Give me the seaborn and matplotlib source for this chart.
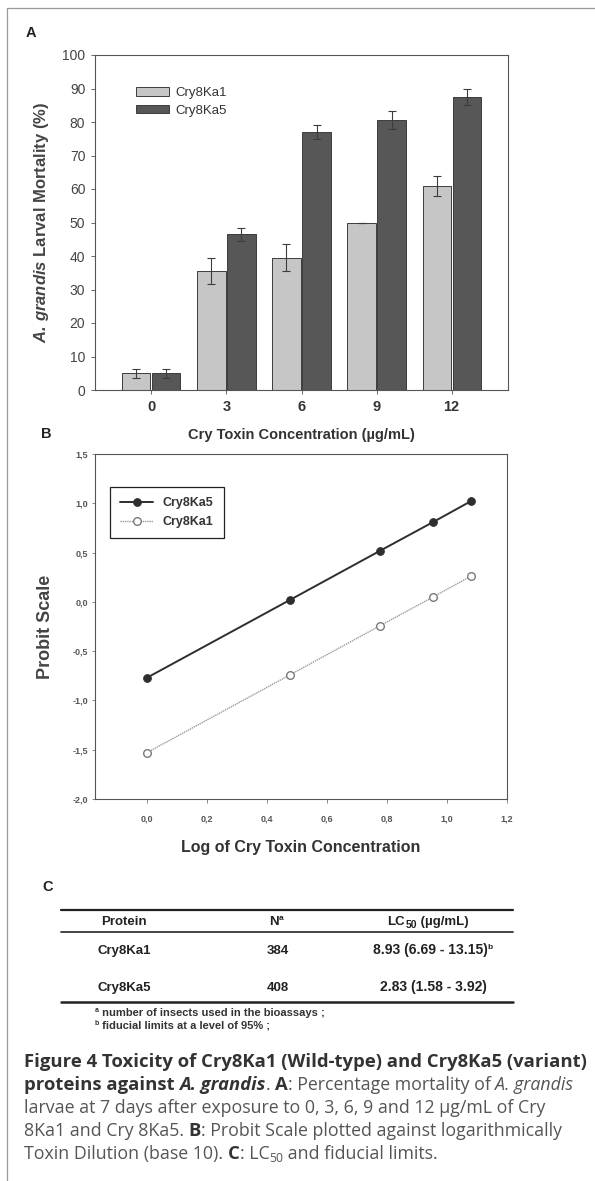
import matplotlib
matplotlib.use("Agg")
import matplotlib.pyplot as plt
import seaborn as sns
import pandas as pd
from matplotlib.lines import Line2D
from matplotlib.ticker import FuncFormatter

# panel A: larval mortality (%) per concentration
conc_labels = ["0", "3", "6", "9", "12"]
ka1_mortality = [5, 35.5, 39.5, 50, 61]
ka1_err = [1.3, 4, 4, 0, 3]
ka5_mortality = [5, 46.5, 77, 80.5, 87.5]
ka5_err = [1.3, 2, 2.2, 2.7, 2.5]

# panel B: probit vs log10(concentration)
log_conc = [0.0, 0.477, 0.778, 0.954, 1.079]
probit_ka5 = [-0.77, 0.02, 0.52, 0.81, 1.02]
probit_ka1 = [-1.53, -0.74, -0.24, 0.05, 0.26]

# panel C: LC50 table
table_proteins = ["Cry8Ka1", "Cry8Ka5"]
table_n = ["384", "408"]
table_lc50 = ["8.93 (6.69 - 13.15)", "2.83 (1.58 - 3.92)"]
table_lc50_note = ["b", ""]

sns.set_style("ticks")
plt.rcParams["font.family"] = ["Liberation Sans", "DejaVu Sans"]
plt.rcParams["mathtext.fontset"] = "custom"
plt.rcParams["mathtext.rm"] = "Liberation Sans"
plt.rcParams["mathtext.it"] = "Liberation Sans:italic"
plt.rcParams["mathtext.bf"] = "Liberation Sans:bold"
plt.rcParams["mathtext.bfit"] = "Liberation Sans:italic:bold"

W, H = 595, 1181
fig = plt.figure(figsize=(W / 100, H / 100), dpi=100)


def fx(x):
    return x / W


def fy(y):
    return 1 - y / H


# ---------------- panel A ----------------
ax_a = fig.add_axes([fx(95), fy(390), (508 - 95) / W, (390 - 55) / H])
df_a = pd.DataFrame({
    "conc": conc_labels * 2,
    "mortality": ka1_mortality + ka5_mortality,
    "protein": ["Cry8Ka1"] * len(conc_labels) + ["Cry8Ka5"] * len(conc_labels),
})
sns.barplot(df_a, x="conc", y="mortality", hue="protein", order=conc_labels,
            hue_order=["Cry8Ka1", "Cry8Ka5"], palette=["#c6c6c6", "#575757"],
            width=0.8, gap=0.06, errorbar=None, edgecolor="#3c3c3c",
            linewidth=0.7, ax=ax_a)
for bars, errs in zip(ax_a.containers, [ka1_err, ka5_err]):
    xs = [b.get_x() + b.get_width() / 2 for b in bars]
    ys = [b.get_height() for b in bars]
    ax_a.errorbar(xs, ys, yerr=errs, fmt="none", ecolor="#3c3c3c",
                  elinewidth=0.8, capsize=3, capthick=0.8)
ax_a.set_xlim(-0.75, 4.75)
ax_a.set_ylim(0, 100)
ax_a.set_yticks(range(0, 101, 10))
ax_a.tick_params(axis="y", labelsize=10, labelcolor="#444", length=3, pad=4,
                 width=0.7, color="#666")
ax_a.tick_params(axis="x", labelsize=10.5, labelcolor="#333", length=3, pad=4.5,
                 width=0.7, color="#666")
for lab in ax_a.get_xticklabels():
    lab.set_fontweight("bold")
for sp in ax_a.spines.values():
    sp.set_visible(True)
    sp.set_color("#555")
    sp.set_linewidth(0.8)
ax_a.set_ylabel(r"$\mathbfit{A.\,grandis}$ Larval Mortality (%)",
                fontsize=12, fontweight="bold", color="#444")
ax_a.yaxis.set_label_coords(-0.107, 0.5)
ax_a.set_xlabel("Cry Toxin Concentration (µg/mL)", fontsize=10.5,
                fontweight="bold", color="#333")
ax_a.xaxis.set_label_coords(0.5, -0.113)
ax_a.legend(loc="upper left", bbox_to_anchor=(0.07, 0.94), frameon=False,
            fontsize=9.5, handlelength=2.5, handleheight=0.6,
            labelspacing=0.45, handletextpad=0.5, labelcolor="#333")

# ---------------- panel B ----------------
ax_b = fig.add_axes([fx(95), fy(799), (507 - 95) / W, (799 - 454) / H])
sns.lineplot(x=log_conc, y=probit_ka5, ax=ax_b, color="#2e2e2e", lw=1.4,
             marker="o", markersize=5.5, markerfacecolor="#2e2e2e",
             markeredgecolor="#2e2e2e", label="Cry8Ka5")
sns.lineplot(x=log_conc, y=probit_ka1, ax=ax_b, color="#9a9a9a", lw=1.0,
             linestyle=(0, (1, 0.6)), marker="o", markersize=5.5,
             markerfacecolor="white", markeredgecolor="#7a7a7a",
             markeredgewidth=1.0, label="Cry8Ka1")
ax_b.set_xlim(-0.173, 1.2)
ax_b.set_ylim(-2.0, 1.5)
ax_b.set_xticks([0, 0.2, 0.4, 0.6, 0.8, 1.0, 1.2])
ax_b.set_yticks([-2.0, -1.5, -1.0, -0.5, 0.0, 0.5, 1.0, 1.5])
comma = FuncFormatter(lambda v, p: f"{v:.1f}".replace(".", ","))
ax_b.xaxis.set_major_formatter(comma)
ax_b.yaxis.set_major_formatter(comma)
ax_b.tick_params(axis="x", labelsize=6.5, labelcolor="#555", length=3, pad=8,
                 width=0.6, color="#777")
ax_b.tick_params(axis="y", labelsize=6.5, labelcolor="#555", length=2, pad=3,
                 width=0.6, color="#777")
for lab in ax_b.get_xticklabels() + ax_b.get_yticklabels():
    lab.set_fontweight("bold")
for sp in ax_b.spines.values():
    sp.set_visible(True)
    sp.set_color("#555")
    sp.set_linewidth(0.8)
ax_b.set_ylabel("Probit Scale", fontsize=13, fontweight="bold", color="#444")
ax_b.yaxis.set_label_coords(-0.10, 0.5)
ax_b.set_xlabel("Log of Cry Toxin Concentration", fontsize=11.5,
                fontweight="bold", color="#333")
ax_b.xaxis.set_label_coords(0.5, -0.119)
leg = ax_b.legend(loc="upper left", bbox_to_anchor=(0.022, 0.922),
                  fancybox=False, edgecolor="#222", framealpha=1,
                  prop={"size": 9, "weight": "bold"}, handlelength=2.6,
                  labelspacing=0.55, borderpad=0.8, labelcolor="#333")
leg.get_frame().set_linewidth(0.9)

# ---------------- panel letters / frame ----------------
for letter, x, y in [("A", 31, 33), ("B", 46, 434), ("C", 48, 887)]:
    fig.text(fx(x), fy(y), letter, fontsize=10.5, fontweight="bold",
             color="#222", ha="center", va="center")
fig.add_artist(Line2D([fx(7), fx(595)], [fy(8), fy(8)], color="#999", lw=0.9))
fig.add_artist(Line2D([fx(7), fx(7)], [fy(8), fy(1181)], color="#999", lw=0.9))

# ---------------- text runs helper ----------------
renderer = fig.canvas.get_renderer()


def run_width(s, kw):
    t = fig.text(0, 0, "|" + s + "|", **kw)
    w1 = t.get_window_extent(renderer).width
    t.set_text("||")
    w0 = t.get_window_extent(renderer).width
    t.remove()
    return w1 - w0


def put_runs(x, y, runs, ha="left"):
    widths = [run_width(s, kw) for s, kw, dy in runs]
    if ha == "center":
        x -= sum(widths) / 2
    for (s, kw, dy), w in zip(runs, widths):
        fig.text(fx(x), fy(y + dy), s, va="baseline", **kw)
        x += w


# ---------------- panel C: table ----------------
tb = {"fontsize": 9.5, "fontweight": "bold", "color": "#222"}
tb_small = {"fontsize": 6, "fontweight": "bold", "color": "#222"}
for y, lw in [(910, 1.6), (932, 1.2), (1002, 1.8)]:
    fig.add_artist(Line2D([fx(61), fx(513)], [fy(y), fy(y)], color="#222", lw=lw))
put_runs(124, 925, [("Protein", tb, 0)], ha="center")
put_runs(276, 925, [("N", tb, 0), ("a", tb_small, -5)], ha="center")
put_runs(428, 925, [("LC", tb, 0), ("50", {**tb, "fontsize": 7.5}, 3),
                    (" (µg/mL)", tb, 0)], ha="center")
for i, yc in enumerate([950, 987]):
    put_runs(97, yc + 4, [(table_proteins[i], tb, 0)])
    put_runs(278, yc + 4, [(table_n[i], tb, 0)], ha="center")
    runs = [(table_lc50[i], {**tb, "fontsize": 10}, 0)]
    if table_lc50_note[i]:
        runs.append((table_lc50_note[i], tb_small, -5))
    put_runs(433, yc + 4, runs, ha="center")
fn = {"fontsize": 8, "fontweight": "bold", "color": "#333"}
fn_sup = {"fontsize": 5, "fontweight": "bold", "color": "#333"}
put_runs(95, 1016, [("a", fn_sup, -4), (" number of insects used in the bioassays ;", fn, 0)])
put_runs(95, 1029, [("b", fn_sup, -4), (" fiducial limits at a level of 95% ;", fn, 0)])

# ---------------- caption ----------------
cb = {"fontsize": 13.3, "fontweight": "bold", "color": "#333", "family": "Open Sans"}
cbi = {**cb, "style": "italic"}
cr = {"fontsize": 12.8, "color": "#555", "family": "Open Sans"}
cri = {**cr, "style": "italic"}
cr_sub = {**cr, "fontsize": 8.7}
caption_lines = [
    [("Figure 4 Toxicity of Cry8Ka1 (Wild-type) and Cry8Ka5 (variant)", cb, 0)],
    [("proteins against ", cb, 0), ("A. grandis", cbi, 0), (". ", cr, 0), ("A", cb, 0),
     (": Percentage mortality of ", cr, 0), ("A. grandis", cri, 0)],
    [("larvae at 7 days after exposure to 0, 3, 6, 9 and 12 µg/mL of Cry", cr, 0)],
    [("8Ka1 and Cry 8Ka5. ", cr, 0), ("B", cb, 0),
     (": Probit Scale plotted against logarithmically", cr, 0)],
    [("Toxin Dilution (base 10). ", cr, 0), ("C", cb, 0), (": LC", cr, 0),
     ("50", cr_sub, 3), (" and fiducial limits.", cr, 0)],
]
for i, runs in enumerate(caption_lines):
    put_runs(24, 1062 + 23 * i + 5, runs)

fig.savefig("out.png", dpi=100)
